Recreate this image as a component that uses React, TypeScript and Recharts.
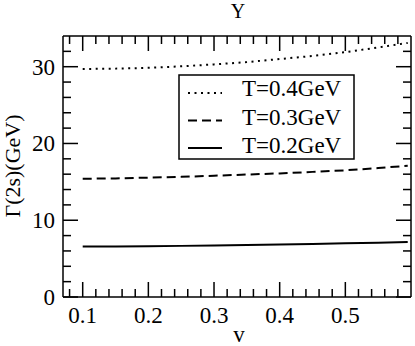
import React from 'react'
import { LineChart, Line, XAxis, YAxis, ReferenceLine } from 'recharts'

const V = [0.1, 0.15, 0.2, 0.25, 0.3, 0.35, 0.4, 0.45, 0.5, 0.55, 0.595]
const T04 = [29.7, 29.75, 29.85, 30.05, 30.3, 30.6, 31.0, 31.4, 31.9, 32.5, 33.1]
const T03 = [15.4, 15.45, 15.55, 15.65, 15.8, 15.95, 16.1, 16.3, 16.5, 16.8, 17.1]
const T02 = [6.57, 6.59, 6.62, 6.66, 6.71, 6.77, 6.84, 6.91, 6.99, 7.08, 7.18]

const MAJOR_X = [0.1, 0.2, 0.3, 0.4, 0.5]
const MINOR_X = [0.08, 0.12, 0.14, 0.16, 0.18, 0.22, 0.24, 0.26, 0.28, 0.32, 0.34, 0.36, 0.38, 0.42, 0.44, 0.46, 0.48, 0.52, 0.54, 0.56, 0.58]
const MAJOR_Y = [0, 10, 20, 30]
const MINOR_Y = [2, 4, 6, 8, 12, 14, 16, 18, 22, 24, 26, 28, 32]

const data = V.map((v, i) => ({ v, t04: T04[i], t03: T03[i], t02: T02[i] }))

const FONT = '"Liberation Serif", "Times New Roman", serif'
const FS = 23
const X0 = 0.07
const X1 = 0.6
const Y0 = 0
const Y1 = 34

// plot area size in px, used to turn tick lengths (px) into data units
const PLOT_W = 348
const PLOT_H = 261
const MAJ = 15
const MIN = 8
const dx = (px: number) => ((X1 - X0) * px) / PLOT_W
const dy = (px: number) => ((Y1 - Y0) * px) / PLOT_H

const BottomLabel = ({ x, y, payload }: any) => (
  <text x={x} y={y + 26} textAnchor="middle" fontFamily={FONT} fontSize={FS} fill="#000">
    {payload.value.toFixed(1)}
  </text>
)

const LeftLabel = ({ x, y, payload }: any) => (
  <text x={x - 8} y={y + 8} textAnchor="end" fontFamily={FONT} fontSize={FS} fill="#000">
    {payload.value}
  </text>
)

const frame = { stroke: '#000', strokeWidth: 1.5 }

const tickMarks = () => {
  const out: React.ReactNode[] = []
  const add = (key: string, a: { x: number; y: number }, b: { x: number; y: number }) =>
    out.push(<ReferenceLine key={key} segment={[a, b]} stroke="#000" strokeWidth={1.5} ifOverflow="visible" />)
  ;[...MAJOR_X.map((v) => [v, MAJ]), ...MINOR_X.map((v) => [v, MIN])].forEach(([v, len]) => {
    add(`b${v}`, { x: v, y: Y0 }, { x: v, y: Y0 + dy(len) })
    add(`t${v}`, { x: v, y: Y1 }, { x: v, y: Y1 - dy(len) })
  })
  ;[...MAJOR_Y.map((v) => [v, MAJ]), ...MINOR_Y.map((v) => [v, MIN])].forEach(([v, len]) => {
    add(`l${v}`, { x: X0, y: v }, { x: X0 + dx(len), y: v })
    add(`r${v}`, { x: X1, y: v }, { x: X1 - dx(len), y: v })
  })
  return out
}

const legendItems = [
  { label: 'T=0.4GeV', dash: '2 4.5' },
  { label: 'T=0.3GeV', dash: '9 5' },
  { label: 'T=0.2GeV', dash: undefined },
]

export default function App() {
  return (
    <div style={{ position: 'absolute', left: 0, top: 0, width: 415, height: 346, background: '#fff' }}>
      <LineChart width={415} height={346} data={data} margin={{ top: 36, right: 4, left: 8, bottom: 19 }}>
        <XAxis
          dataKey="v"
          type="number"
          domain={[X0, X1]}
          ticks={MAJOR_X}
          interval={0}
          height={30}
          tickLine={false}
          tickSize={0}
          tickMargin={0}
          axisLine={frame}
          tick={<BottomLabel />}
          allowDataOverflow
        />
        <YAxis
          type="number"
          domain={[Y0, Y1]}
          ticks={MAJOR_Y}
          interval={0}
          width={55}
          tickLine={false}
          tickSize={0}
          tickMargin={0}
          axisLine={frame}
          tick={<LeftLabel />}
          allowDataOverflow
        />
        <ReferenceLine y={Y1} stroke="#000" strokeWidth={1.5} ifOverflow="visible" />
        <ReferenceLine x={X1} stroke="#000" strokeWidth={1.5} ifOverflow="visible" />
        {tickMarks()}
        <Line dataKey="t04" stroke="#000" strokeWidth={2} strokeDasharray="2 4.5" dot={false} isAnimationActive={false} />
        <Line dataKey="t03" stroke="#000" strokeWidth={2} strokeDasharray="9 5" dot={false} isAnimationActive={false} />
        <Line dataKey="t02" stroke="#000" strokeWidth={2} dot={false} isAnimationActive={false} />
      </LineChart>

      <svg width={415} height={346} style={{ position: 'absolute', left: 0, top: 0 }} fontFamily={FONT} fill="#000">
        <text x={238} y={18} fontSize={20} textAnchor="middle">Υ</text>
        <text x={239} y={342} fontSize={FS} textAnchor="middle">v</text>
        <text x={20} y={166} fontSize={22} textAnchor="middle" transform="rotate(-90 20 166)">Γ(2s)(GeV)</text>
        <rect x={179} y={75} width={175} height={84} fill="#fff" stroke="#000" strokeWidth={1.5} />
        {legendItems.map((it, i) => (
          <g key={it.label}>
            <line x1={188} x2={222} y1={93 + i * 27.5} y2={93 + i * 27.5} stroke="#000" strokeWidth={2} strokeDasharray={it.dash} />
            <text x={242} y={96 + i * 28.5} fontSize={FS}>{it.label}</text>
          </g>
        ))}
      </svg>
    </div>
  )
}
